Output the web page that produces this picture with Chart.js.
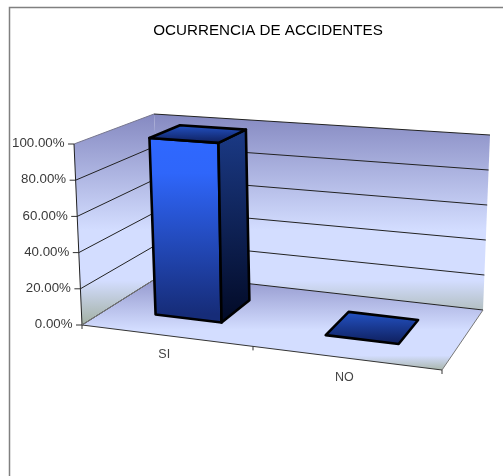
<!DOCTYPE html>
<html>
<head>
<meta charset="utf-8">
<style>
    html, body { margin: 0; padding: 0; background: #fff; overflow: hidden; }
    canvas { display: block; }
</style>
<script src="https://cdn.jsdelivr.net/npm/chart.js@4/dist/chart.umd.min.js"></script>
</head>
<body>
<canvas id="chart" width="503" height="476"></canvas>
<script>
// Data
const categories = ['SI', 'NO'];
const occurrence = [100, 0];
const chartTitle = 'OCURRENCIA DE ACCIDENTES';

// Box corners as seen on screen: A front left, B front right, C back right, D back left
const A = [82, 325], B = [442, 370], C = [483, 310], D = [163, 274];
// Height of the box at each corner (screen offset for the 100% level)
const hA = [-8, -181], hB = [8, -198], hC = [7, -175], hD = [-9, -160];
const barDepth = [0.32, 0.73];

// t: 0-1 across, v: 0-1 into the picture, w: 0-1 up
function project(t, v, w) {
    const u = 0.9 * t + 0.1 * t * t; // perspective squeeze
    const mix = (a, b, c, d, i) => a[i] * (1 - u) * (1 - v) + b[i] * u * (1 - v) + c[i] * u * v + d[i] * (1 - u) * v;
    return [
        mix(A, B, C, D, 0) + w * mix(hA, hB, hC, hD, 0),
        mix(A, B, C, D, 1) + w * mix(hA, hB, hC, hD, 1)
    ];
}

function poly(ctx, pts) {
    ctx.beginPath();
    pts.forEach((p, i) => i ? ctx.lineTo(p[0], p[1]) : ctx.moveTo(p[0], p[1]));
    ctx.closePath();
}

function line(ctx, a, b, color, width) {
    ctx.strokeStyle = color;
    ctx.lineWidth = width;
    ctx.beginPath();
    ctx.moveTo(a[0], a[1]);
    ctx.lineTo(b[0], b[1]);
    ctx.stroke();
}

function vertical(ctx, y0, y1, stops) {
    const g = ctx.createLinearGradient(0, y0, 0, y1);
    stops.forEach(s => g.addColorStop(s[0], s[1]));
    return g;
}

const wallStops = [[0, '#8589c1'], [0.55, '#d3ddff'], [0.79, '#d3ddff'], [1, '#a2b0a2']];
const floorStops = [[0, '#8e92c9'], [0.58, '#d3ddff'], [0.85, '#d3ddff'], [1, '#a9b6ac']];

const box3d = {
    id: 'box3d',
    beforeDraw(chart) {
        const { ctx, width, height } = chart;
        ctx.save();
        ctx.fillStyle = '#fff';
        ctx.fillRect(0, 0, width, height);
        ctx.strokeStyle = '#808080';
        ctx.lineWidth = 1.5;
        ctx.beginPath();
        ctx.moveTo(9.5, height);
        ctx.lineTo(9.5, 7.5);
        ctx.lineTo(width, 7.5);
        ctx.stroke();
        ctx.restore();

        // Put the tick labels next to the slanted axes
        const { x, y } = chart.scales;
        y.getLabelItems().forEach((item, i) => {
            const w = y.ticks[i].value / y.max;
            const p = project(0, 0, w);
            item.options.translation = [p[0] - 9.5, p[1] - 0.5];
        });
        x.getLabelItems().forEach((item, i) => {
            const t = (x.getPixelForTick(i) - chart.chartArea.left) / chart.chartArea.width;
            const p = project(t, 0, 0);
            item.options.translation = [p[0] - 1, p[1] + 12];
        });
    },
    beforeDatasetsDraw(chart) {
        const { ctx } = chart;
        const y = chart.scales.y;
        ctx.save();

        // Walls and floor
        const wallFill = vertical(ctx, project(0, 1, 1)[1], project(0, 0, 0)[1], wallStops);
        poly(ctx, [project(0, 0, 0), project(0, 1, 0), project(0, 1, 1), project(0, 0, 1)]);
        ctx.fillStyle = wallFill;
        ctx.fill();
        poly(ctx, [project(0, 1, 0), project(1, 1, 0), project(1, 1, 1), project(0, 1, 1)]);
        ctx.fillStyle = wallFill;
        ctx.fill();
        poly(ctx, [project(0, 0, 0), project(1, 0, 0), project(1, 1, 0), project(0, 1, 0)]);
        ctx.fillStyle = vertical(ctx, project(0, 1, 0)[1], project(1, 0, 0)[1], floorStops);
        ctx.fill();

        // Gridlines and value ticks
        y.ticks.forEach(tick => {
            const w = tick.value / y.max;
            const a = project(0, 0, w), b = project(0, 1, w), c = project(1, 1, w);
            line(ctx, a, b, tick.value === y.max ? '#77778f' : '#222', 1);
            line(ctx, b, c, '#222', 1);
            line(ctx, [a[0] - 6, a[1]], a, '#333', 1);
        });

        // Box edges
        line(ctx, project(0, 0, 0), project(0, 0, 1), '#222', 1);
        line(ctx, project(0, 0, 0), project(1, 0, 0), '#333', 1);
        line(ctx, project(1, 0, 0), project(1, 1, 0), '#777', 1);
        line(ctx, project(0, 0, 0), project(0, 1, 0), '#777', 1);

        // Category ticks
        [0, 0.5, 1].forEach(t => {
            const p = project(t, 0, 0);
            line(ctx, p, [p[0], p[1] + 4], '#333', 1);
        });
        ctx.restore();
    },
    afterDatasetsDraw(chart) {
        const { ctx, chartArea } = chart;
        const y = chart.scales.y;
        const [v0, v1] = barDepth;
        ctx.save();
        ctx.lineJoin = 'round';
        ctx.lineWidth = 2.6;
        ctx.strokeStyle = '#000';
        chart.getDatasetMeta(0).data.forEach(bar => {
            const t0 = (bar.x - bar.width / 2 - chartArea.left) / chartArea.width;
            const t1 = (bar.x + bar.width / 2 - chartArea.left) / chartArea.width;
            const w = (y.getPixelForValue(0) - bar.y) / (y.getPixelForValue(0) - y.getPixelForValue(y.max));

            // Front
            const fTop = project(t0, v0, w), fBot = project(t0, v0, 0);
            if (w > 0) {
                let g = ctx.createLinearGradient(0, fTop[1], 0, fBot[1]);
                g.addColorStop(0, '#2f68ff');
                g.addColorStop(0.2, '#2f66fa');
                g.addColorStop(1, '#162c78');
                poly(ctx, [fTop, project(t1, v0, w), project(t1, v0, 0), fBot]);
                ctx.fillStyle = g;
                ctx.fill();
                ctx.stroke();

                // Side
                const sTop = project(t1, v1, w), sBot = project(t1, v0, 0);
                g = ctx.createLinearGradient(0, sTop[1], 0, sBot[1]);
                g.addColorStop(0, '#1b3a86');
                g.addColorStop(1, '#020a26');
                poly(ctx, [project(t1, v0, w), sTop, project(t1, v1, 0), sBot]);
                ctx.fillStyle = g;
                ctx.fill();
                ctx.stroke();
            }

            // Top
            const back = project(t0, v1, w), front = project(t0, v0, w);
            const g = ctx.createLinearGradient(0, back[1], 0, project(t1, v0, w)[1]);
            g.addColorStop(0, '#2352c4');
            g.addColorStop(1, '#0f1f5c');
            poly(ctx, [front, project(t1, v0, w), project(t1, v1, w), back]);
            ctx.fillStyle = g;
            ctx.fill();
            ctx.stroke();
        });
        ctx.restore();
    }
};

new Chart(document.getElementById('chart').getContext('2d'), {
    type: 'bar',
    data: {
        labels: categories,
        datasets: [{
            data: occurrence,
            backgroundColor: 'rgba(0,0,0,0)',
            borderWidth: 0,
            categoryPercentage: 1,
            barPercentage: 0.4
        }]
    },
    options: {
        responsive: false,
        animation: false,
        devicePixelRatio: 1,
        layout: { padding: { left: 0, right: 49, top: 0, bottom: 0 } },
        plugins: {
            legend: { display: false },
            tooltip: { enabled: false },
            title: {
                display: true,
                text: chartTitle,
                fullSize: false,
                color: '#000',
                font: { family: "'Liberation Sans'", size: 15.2, weight: 'normal' },
                padding: { top: 22, bottom: 103 }
            }
        },
        scales: {
            x: {
                grid: { display: false },
                border: { display: false },
                ticks: { color: '#444', font: { family: "'Liberation Sans'", size: 12.5 }, maxRotation: 0 },
                afterFit: s => { s.height = 151; }
            },
            y: {
                min: 0,
                max: 100,
                grid: { display: false },
                border: { display: false },
                ticks: {
                    stepSize: 20,
                    color: '#3a3a3a',
                    font: { family: "'Liberation Sans'", size: 13.3 },
                    callback: v => v.toFixed(2) + '%'
                },
                afterFit: s => { s.width = 82; }
            }
        }
    },
    plugins: [box3d]
});
</script>
</body>
</html>
